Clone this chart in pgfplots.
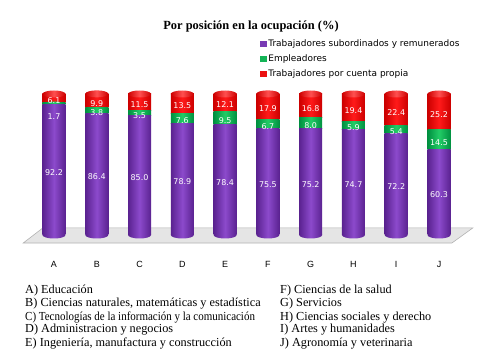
\documentclass[border=0pt]{standalone}
\usepackage{pgfplots}
\pgfplotsset{compat=1.18}
\usepackage{pgfplotstable}
\usepackage{fontspec}
\setmainfont{Liberation Serif}
\newfontfamily\labfont{DejaVu Sans}
\newfontfamily\tickfont{Liberation Sans}

\definecolor{purD}{HTML}{5A2290}
\definecolor{purL}{HTML}{8C4ACC}
\definecolor{grnD}{HTML}{009040}
\definecolor{grnL}{HTML}{22CC66}
\definecolor{rdD}{HTML}{CC0000}
\definecolor{rdL}{HTML}{FF1A1A}
\definecolor{rdT}{HTML}{FF5050}

\pgfdeclareplotmark{nothing}{}

\pgfplotsset{
  cyl/.style n args={3}{scatter, only marks, mark=nothing,
    visualization depends on={\thisrow{#1} \as \h},
    scatter/@pre marker code/.code={%
      \shade[draw=none, left color=#2, right color=#2, middle color=#3] (-11.5bp,{-\h*1.41bp}) rectangle (11.5bp,0pt);
      \shade[draw=none, left color=#2, right color=#2, middle color=#3] (0pt,{-\h*1.41bp}) ellipse [x radius=11.5bp, y radius=3.5bp];
    },
    scatter/@post marker code/.code={}},
  cyltop/.style n args={3}{scatter, only marks, mark=nothing,
    visualization depends on={\thisrow{#1} \as \h},
    scatter/@pre marker code/.code={%
      \shade[draw=none, left color=#2, right color=#2, middle color=#3] (-11.5bp,{-\h*1.41bp}) rectangle (11.5bp,0pt);
      \shade[draw=none, left color=#2, right color=#2, middle color=#3] (0pt,{-\h*1.41bp}) ellipse [x radius=11.5bp, y radius=3.5bp];
      \shade[draw=none, left color=#2, right color=#2, middle color=rdT] (0pt,0pt) ellipse [x radius=11.5bp, y radius=3.5bp];
    },
    scatter/@post marker code/.code={}},
  legP/.style={legend image code/.code={\fill[purD!40!purL] (0bp,-2.8bp) rectangle (5.6bp,2.8bp);}},
  legG/.style={legend image code/.code={\fill[grnD!40!grnL] (0bp,-2.8bp) rectangle (5.6bp,2.8bp);}},
  legR/.style={legend image code/.code={\fill[rdD!40!rdL] (0bp,-2.8bp) rectangle (5.6bp,2.8bp);}},
}

\pgfplotstableread{
x sub emp cta
0 92.2 1.7 6.1
1 86.4 3.8 9.9
2 85.0 3.5 11.5
3 78.9 7.6 13.5
4 78.4 9.5 12.1
5 75.5 6.7 17.9
6 75.2 8.0 16.8
7 74.7 5.9 19.4
8 72.2 5.4 22.4
9 60.3 14.5 25.2
}\datatable

\pgfplotstableread{
x y lab
0 46.1 92.2
1 43.2 86.4
2 42.5 85.0
3 39.45 78.9
4 39.2 78.4
5 37.75 75.5
6 37.6 75.2
7 37.35 74.7
8 36.1 72.2
9 30.15 60.3
0 85.5 1.7
1 88.3 3.8
2 86.75 3.5
3 82.7 7.6
4 83.15 9.5
5 78.85 6.7
6 79.2 8.0
7 77.65 5.9
8 74.9 5.4
9 67.55 14.5
0 96.95 6.1
1 95.15 9.9
2 94.25 11.5
3 93.25 13.5
4 93.95 12.1
5 91.15 17.9
6 91.6 16.8
7 90.3 19.4
8 88.8 22.4
9 87.4 25.2
}\labtable

\begin{document}
\begin{tikzpicture}
\useasboundingbox (0,0) rectangle (500bp,350bp);
\pgfplotsset{
  base/.style={scale only axis, width=449.2bp, height=169.2bp,
    at={(21.9bp,100.9bp)}, anchor=south west,
    xmin=-0.75, xmax=9.75, ymin=-10, ymax=110, clip=false},
}
% floor
\begin{axis}[base, hide axis]
\fill[gray!20] (axis cs:-0.72,-5.7) -- (axis cs:-0.26,5) -- (axis cs:9.79,5) -- (axis cs:9.30,-5.7) -- cycle;
\draw[gray!60, line width=0.6bp] (axis cs:-0.72,-5.7) -- (axis cs:-0.26,5) -- (axis cs:9.79,5) -- (axis cs:9.30,-5.7) -- cycle;
\end{axis}
% bars
\begin{axis}[base, stack plots=y,
  axis line style={draw=none}, major tick length=0pt, ytick=\empty,
  xtick={0,...,9}, xticklabels={A,B,C,D,E,F,G,H,I,J},
  xticklabel style={font=\tickfont\fontsize{9}{10}\selectfont, yshift=-9bp},
  legend style={at={(0.5305,1.252)}, anchor=north west, draw=none, fill=none,
    inner sep=0pt, row sep=2.8bp, font=\labfont\fontsize{9}{10.5}\selectfont,
    cells={anchor=west}},
  legend cell align=left]
\addplot[cyl={sub}{purD}{purL}, legP] table[x=x, y=sub] {\datatable};
\addplot[cyl={emp}{grnD}{grnL}, legG] table[x=x, y=emp] {\datatable};
\addplot[cyltop={cta}{rdD}{rdL}, legR] table[x=x, y=cta] {\datatable};
\legend{Trabajadores subordinados y remunerados, Empleadores, Trabajadores por cuenta propia}
\end{axis}
% labels
\begin{axis}[base, hide axis]
\addplot[only marks, mark=nothing,
  nodes near coords, point meta=explicit symbolic,
  every node near coord/.style={anchor=center, text=white, inner sep=0pt,
    font=\labfont\fontsize{8}{9}\selectfont, yshift=-2.5bp}]
  table[x=x, y=y, meta=lab] {\labtable};
\end{axis}
\node[font=\bfseries\fontsize{12.5}{15}\selectfont] at (251bp,323bp) {Por posición en la ocupación (\%)};
\begin{scope}[every node/.style={anchor=base west, inner sep=0pt, font=\fontsize{12.3}{14}\selectfont}]
\node at (25bp,56.5bp) {A) Educación};
\node at (25bp,43.3bp) {B) Ciencias naturales, matemáticas y estadística};
\node at (25bp,30bp) {\scalebox{0.895}[1]{C) Tecnologías de la información y la comunicación}};
\node at (25bp,17.2bp) {D) Administracion y negocios};
\node at (25bp,3.8bp) {E) Ingeniería, manufactura y construcción};
\node at (280bp,56.5bp) {F) Ciencias de la salud};
\node at (280bp,43.3bp) {G) Servicios};
\node at (280bp,30bp) {H) Ciencias sociales y derecho};
\node at (280bp,17.2bp) {I) Artes y humanidades};
\node at (280bp,3.8bp) {J) Agronomía y veterinaria};
\end{scope}
\end{tikzpicture}
\end{document}
